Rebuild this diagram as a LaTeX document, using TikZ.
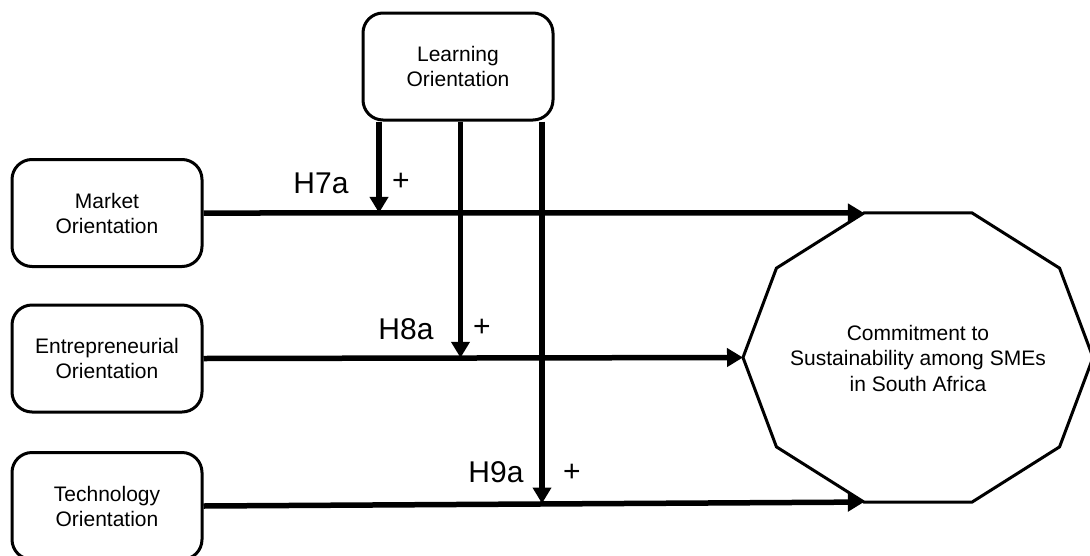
\documentclass[tikz,border=0pt]{standalone}
\usepackage{fontspec}
\setmainfont{Liberation Sans}
\usetikzlibrary{arrows.meta}
\begin{document}
\begin{tikzpicture}[x=1pt,y=-1pt,
  construct/.style={draw, line width=3pt, rounded corners=20pt,
    minimum width=190pt, minimum height=107pt, align=center, inner sep=0pt,
    font=\fontsize{21}{25}\selectfont},
  path/.style={line width=5.5pt, -{Triangle[width=18pt,length=16pt]}},
  hyp/.style={font=\fontsize{30}{36}\selectfont, inner sep=0pt},
  goaltext/.style={align=center, inner sep=0pt, font=\fontsize{21}{25.5}\selectfont}]
\useasboundingbox (0,0) rectangle (1090,555);
\clip (0,0) rectangle (1090,555);

% predictor constructs and the moderator
\node[construct] (learn)  at (458,66.5) {Learning\\Orientation};
\node[construct] (market) at (107,213)  {Market\\Orientation};
\node[construct] (entre)  at (107,358.5){Entrepreneurial\\Orientation};
\node[construct] (tech)   at (107,506)  {Technology\\Orientation};

% outcome: decagon around the centre text
\node[goaltext] (goal) at (918,358) {Commitment to\\Sustainability among SMEs\\in South Africa};
\foreach \i in {0,...,9}
  \coordinate (d\i) at ([shift={({175*cos(36*\i)},{152*sin(36*\i)})}]918,357.5);
\draw[line width=3pt, line join=miter]
  (d0) -- (d1) -- (d2) -- (d3) -- (d4) -- (d5) -- (d6) -- (d7) -- (d8) -- (d9) -- cycle;

% direct paths
\draw[path] (market.east) -- (d7);
\draw[path] (entre.east) -- (d5);
\draw[path] (tech.east) -- (d3);

% moderation points on the direct paths
\coordinate (m7) at (379,212.9);
\coordinate (m8) at (460.5,357.8);
\coordinate (m9) at (542,503.5);

\draw[path] (learn.south -| m7) -- (m7);
\draw[path] (learn.south -| m8) -- (m8);
\draw[path] (learn.south -| m9) -- (m9);

% hypothesis labels
\node[hyp] (h7)  at (321,183) {H7a};
\node[hyp] (p7)  at (401,182) {+};
\node[hyp] (h8)  at (406,329) {H8a};
\node[hyp] (p8)  at (482,328) {+};
\node[hyp] (h9)  at (496,472) {H9a};
\node[hyp] (p9)  at (572,473) {+};
\end{tikzpicture}
\end{document}
